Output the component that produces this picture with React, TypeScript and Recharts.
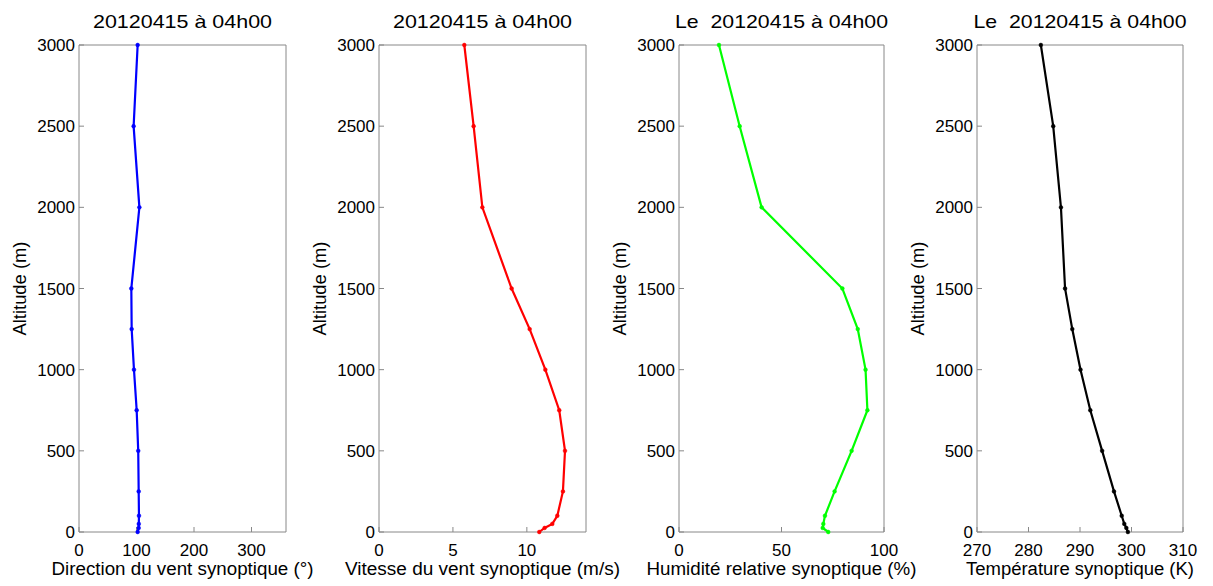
import React from "react";
import { Label, Line, LineChart, XAxis, YAxis } from "recharts";

// altitudes (m), shared by every profile
const altitudes = [0, 25, 50, 100, 250, 500, 750, 1000, 1250, 1500, 2000, 2500, 3000];

const direction = [102, 103.8, 104, 104.3, 103.8, 103, 100.3, 95.6, 91.6, 91, 105, 95, 102];
const speed = [10.84, 11.2, 11.72, 12.06, 12.44, 12.58, 12.19, 11.25, 10.19, 8.97, 6.99, 6.4, 5.77];
const humidity = [72.8, 70.1, 70.4, 71.2, 75.9, 84.2, 91.9, 91, 87.2, 79.7, 40.3, 29.6, 19.5];
const temperature = [299.3, 299, 298.6, 298.1, 296.6, 294.3, 292, 290.1, 288.5, 287.1, 286.3, 284.8, 282.4];

const altTicks = [0, 500, 1000, 1500, 2000, 2500, 3000];
const dirTicks = [0, 100, 200, 300];
const speedTicks = [0, 5, 10];
const humTicks = [0, 50, 100];
const tempTicks = [270, 280, 290, 300, 310];

const FONT = "'Liberation Sans', Arial, Helvetica, sans-serif";
const AXIS = "#888888";
const H = 586;
const TOP = 45;
const BOTTOM = 532;
const YW = 120;
const CW = 380;

type Panel = {
  left: number;
  width: number;
  values: number[];
  color: string;
  domain: [number, number];
  ticks: number[];
  title: string;
  titleLen: number;
  xlabel: string;
  xlabelLen: number;
};

const panels: Panel[] = [
  { left: 79, width: 207, values: direction, color: "#0000ff", domain: [0, 360], ticks: dirTicks, title: "20120415 à 04h00", titleLen: 179, xlabel: "Direction du vent synoptique (°)", xlabelLen: 262 },
  { left: 379, width: 207, values: speed, color: "#ff0000", domain: [0, 14], ticks: speedTicks, title: "20120415 à 04h00", titleLen: 179, xlabel: "Vitesse du vent synoptique (m/s)", xlabelLen: 275 },
  { left: 679, width: 205, values: humidity, color: "#00ff00", domain: [0, 100], ticks: humTicks, title: "Le\u00a0 20120415 à 04h00", titleLen: 213, xlabel: "Humidité relative synoptique (%)", xlabelLen: 270 },
  { left: 977, width: 206, values: temperature, color: "#000000", domain: [270, 310], ticks: tempTicks, title: "Le\u00a0 20120415 à 04h00", titleLen: 213, xlabel: "Température synoptique (K)", xlabelLen: 228 },
];

const tickStyle = { fontSize: 17, fill: "#000", fontFamily: FONT };

function ProfileChart({ p }: { p: Panel }) {
  const data = altitudes.map((alt, i) => ({ alt, v: p.values[i] }));
  const plotCenter = YW + p.width / 2;
  return (
    <div style={{ position: "absolute", left: p.left - YW, top: 0 }}>
      <LineChart
        width={CW}
        height={H}
        data={data}
        layout="vertical"
        margin={{ top: TOP - 1, right: CW - YW - p.width - 1, bottom: 0, left: 0 }}
      >
        <XAxis
          type="number"
          dataKey="v"
          domain={p.domain}
          ticks={p.ticks}
          interval={0}
          height={H - BOTTOM}
          stroke={AXIS}
          tickSize={-5}
          tickMargin={17}
          tick={tickStyle}
        >
          <Label
            content={() => (
              <text x={plotCenter} y={575} textAnchor="middle" fontSize={18} fontFamily={FONT} fill="#000" textLength={p.xlabelLen} lengthAdjust="spacingAndGlyphs">
                {p.xlabel}
              </text>
            )}
          />
        </XAxis>
        <XAxis
          xAxisId="top"
          orientation="top"
          type="number"
          dataKey="v"
          domain={p.domain}
          ticks={p.ticks}
          interval={0}
          height={1}
          stroke={AXIS}
          tickSize={-5}
          tick={false}
        >
          <Label
            content={() => (
              <text x={plotCenter} y={27.5} textAnchor="middle" fontSize={18.5} fontFamily={FONT} fill="#000" textLength={p.titleLen} lengthAdjust="spacingAndGlyphs">
                {p.title}
              </text>
            )}
          />
        </XAxis>
        <YAxis
          type="number"
          dataKey="alt"
          domain={[0, 3000]}
          ticks={altTicks}
          interval={0}
          reversed
          width={YW}
          stroke={AXIS}
          tickSize={-5}
          tickMargin={9}
          tick={tickStyle}
        >
          <Label
            content={() => {
              const cx = YW - 59;
              const cy = (TOP + BOTTOM) / 2;
              return (
                <text x={cx} y={cy} transform={`rotate(-90 ${cx} ${cy})`} textAnchor="middle" dominantBaseline="central" fontSize={18} fontFamily={FONT} fill="#000" textLength={94} lengthAdjust="spacingAndGlyphs">
                  Altitude (m)
                </text>
              );
            }}
          />
        </YAxis>
        <YAxis
          yAxisId="right"
          orientation="right"
          type="number"
          dataKey="alt"
          domain={[0, 3000]}
          ticks={altTicks}
          interval={0}
          reversed
          width={1}
          stroke={AXIS}
          tickSize={-5}
          tick={false}
        />
        {/* invisible twin series so the top and right box axes get drawn */}
        <Line
          xAxisId="top"
          yAxisId="right"
          type="linear"
          dataKey="v"
          stroke="none"
          dot={false}
          activeDot={false}
          isAnimationActive={false}
        />
        <Line
          type="linear"
          dataKey="v"
          stroke={p.color}
          strokeWidth={2.2}
          dot={{ r: 1.9, fill: p.color, stroke: p.color, strokeWidth: 0.5 }}
          isAnimationActive={false}
        />
      </LineChart>
    </div>
  );
}

export default function App() {
  return (
    <div style={{ position: "absolute", left: 0, top: 0, width: 1213, height: H, background: "#fff", overflow: "hidden" }}>
      {panels.map((p, i) => (
        <ProfileChart key={i} p={p} />
      ))}
    </div>
  );
}
